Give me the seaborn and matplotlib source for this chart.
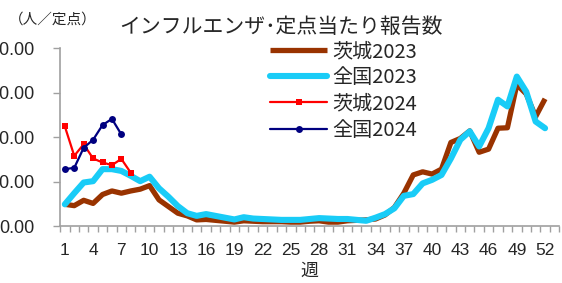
"""
インフルエンザ 定点当たり報告数 (茨城 / 全国, 2023 vs 2024)
"""

import numpy as np
import pandas as pd
import matplotlib
matplotlib.use('Agg')
import matplotlib.pyplot as plt
import seaborn as sns

sns.set_theme(style='white')
plt.rcParams['font.family'] = ['Noto Sans CJK JP', 'DejaVu Sans']

weeks_2023 = list(range(1, 53))
ibaraki_2023 = [4.9, 4.6, 5.8, 5.1, 7.1, 7.9, 7.4, 7.9, 8.3, 9.1,
                5.9, 4.4, 2.9, 2.3, 1.4, 1.5, 1.3, 1.1, 0.9, 1.2,
                1.1, 1.0, 1.0, 1.0, 0.9, 0.9, 1.1, 1.2, 0.9, 0.9,
                1.2, 1.3, 1.4, 1.6, 2.5, 4.2, 7.4, 11.5, 12.2, 11.7,
                12.8, 18.8, 19.7, 21.4, 16.6, 17.3, 22.0, 22.1, 31.8, 29.7,
                24.6, 28.6]
zenkoku_2023 = [4.9, 7.4, 9.8, 10.1, 12.8, 12.8, 12.4, 11.3, 10.1, 11.1,
                8.5, 6.6, 4.5, 2.9, 2.3, 2.7, 2.3, 1.9, 1.5, 2.0,
                1.7, 1.6, 1.5, 1.4, 1.4, 1.4, 1.6, 1.8, 1.7, 1.6,
                1.6, 1.4, 1.2, 1.9, 2.7, 4.0, 6.8, 7.2, 9.6, 10.4,
                11.5, 15.2, 19.4, 21.3, 17.9, 22.0, 28.4, 26.9, 33.6, 30.2,
                23.5, 22.0]

weeks_ibaraki_2024 = [1, 2, 3, 4, 5, 6, 7, 8]
ibaraki_2024 = [22.4, 15.8, 18.4, 15.2, 14.3, 13.7, 15.1, 12.0]
weeks_zenkoku_2024 = [1, 2, 3, 4, 5, 6, 7]
zenkoku_2024 = [12.8, 13.1, 17.6, 19.4, 22.7, 24.1, 20.6]

y_ticks = [0, 10, 20, 30, 40]
x_ticks = list(range(1, 53, 3))

fig = plt.figure(figsize=(5.62, 2.83), dpi=100)
ax = fig.add_axes([0.107, 0.201, 0.888, 0.629])

sns.lineplot(x=weeks_2023, y=ibaraki_2023, ax=ax, color='#993300', lw=3.8,
             label='茨城2023', solid_capstyle='butt')
sns.lineplot(x=weeks_2023, y=zenkoku_2023, ax=ax, color='#19CCF7', lw=4.4,
             label='全国2023', solid_capstyle='round')
sns.lineplot(x=weeks_ibaraki_2024, y=ibaraki_2024, ax=ax, color='#FF0000', lw=1.6,
             marker='s', markersize=5, markeredgewidth=0, label='茨城2024')
sns.lineplot(x=weeks_zenkoku_2024, y=zenkoku_2024, ax=ax, color='#000080', lw=1.6,
             marker='o', markersize=5, markeredgewidth=0, label='全国2024')

ax.set_xlim(0.5, 53.5)
ax.set_ylim(0, 40)

ax.set_yticks(y_ticks)
ax.set_yticklabels([f'{v:.2f}' for v in y_ticks], family='Liberation Sans', fontsize=13)
ax.set_xticks(x_ticks)
ax.set_xticklabels([str(w) for w in x_ticks], family='Liberation Sans', fontsize=12.5)
ax.set_xticks(np.arange(0.5, 54, 1.0), minor=True)
ax.tick_params(axis='x', which='major', length=0, pad=12)
ax.tick_params(axis='x', which='minor', length=4, color='#a0a0a0', width=1, bottom=True)
ax.tick_params(axis='y', length=5, color='#a0a0a0', width=1, pad=13.5, left=True)

for side in ['top', 'right']:
    ax.spines[side].set_visible(False)
for side in ['left', 'bottom']:
    ax.spines[side].set_color('#a0a0a0')
    ax.spines[side].set_linewidth(1.2)
ax.grid(False)

ax.set_xlabel('週', fontsize=13, labelpad=3)
ax.set_ylabel('')

fig.text(0.015, 0.93, '（人／定点）', fontsize=10.5, va='center', ha='left')
fig.text(0.212, 0.905, 'インフルエンザ･定点当たり報告数', fontsize=15, va='center', ha='left')

ax.legend(loc='upper left', bbox_to_anchor=(0.405, 1.085), frameon=False,
          fontsize=14.5, handlelength=2.8, handletextpad=0.3, labelspacing=0.26,
          borderaxespad=0)

fig.savefig('out.png', dpi=100)
